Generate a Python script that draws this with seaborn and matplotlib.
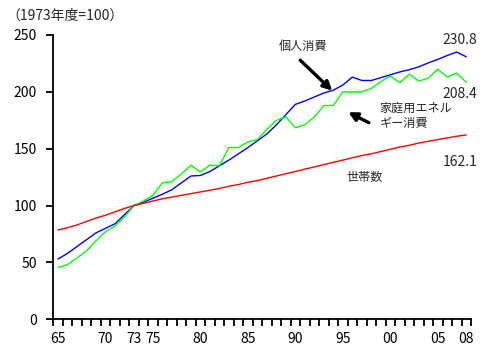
import matplotlib
matplotlib.use("Agg")
import matplotlib.pyplot as plt
import seaborn as sns
import pandas as pd

years = list(range(1965, 2009))

personal = [53, 58, 64, 70, 76, 80, 84, 92, 100,
            103, 106.5, 110, 114, 120, 126, 126.5, 130, 135, 140,
            145.5, 151, 157, 163, 171, 180, 189, 192, 195.5, 199,
            201.5, 206, 213, 210, 210, 212.5, 215, 217.5, 219.5, 222,
            225.5, 228.5, 232, 235, 230.8]

energy = [45.5, 48, 54, 60, 69, 77, 82, 90, 100,
          104, 109, 120, 121, 128, 135.5, 129.5, 135.5, 135, 151,
          151, 156, 158, 167, 175, 178, 168.5, 171, 178, 188,
          188, 200, 200, 200, 203, 209, 214, 208, 215.5, 209.5,
          212, 220, 213, 216.5, 208.4]

households = [78.5, 80.5, 83, 86, 89, 91.5, 94.5, 97.5, 100,
              102, 104, 106, 107.5, 109, 110.5, 112, 113.5, 115, 117,
              118.5, 120.5, 122, 124, 126, 128, 130, 132, 134, 136,
              138, 140, 142, 144, 145.5, 147.5, 149.5, 151.5, 153, 155,
              156.5, 158, 159.5, 161, 162.1]

series_names = ["個人消費", "家庭用エネルギー消費", "世帯数"]
tick_years = [1965, 1970, 1973, 1975, 1980, 1985, 1990, 1995, 2000, 2005, 2008]
tick_labels = ["65", "70", "73", "75", "80", "85", "90", "95", "00", "05", "08"]
y_ticks = [0, 50, 100, 150, 200, 250]

df = pd.DataFrame({
    "year": years * 3,
    "value": personal + energy + households,
    "series": [series_names[0]] * len(years) + [series_names[1]] * len(years)
              + [series_names[2]] * len(years),
})

sns.set_style("ticks")
plt.rcParams["font.family"] = ["Noto Sans CJK JP", "DejaVu Sans"]

fig = plt.figure(figsize=(4.87, 3.57), dpi=100)
ax = fig.add_axes([53.3 / 487, 1 - 319.3 / 357, (471 - 53.3) / 487, (319.3 - 35) / 357])

palette = {series_names[0]: "#0000ff", series_names[1]: "#00ff00", series_names[2]: "#ff0000"}
sns.lineplot(data=df, x="year", y="value", hue="series", palette=palette,
             linewidth=1.0, legend=False, ax=ax)

ax.set_xlim(1964.5, 2008.5)
ax.set_ylim(0, 250)
ax.set_xlabel("")
ax.set_ylabel("")
for s in ["top", "right"]:
    ax.spines[s].set_visible(False)
for s in ["left", "bottom"]:
    ax.spines[s].set_linewidth(1.3)
    ax.spines[s].set_color("black")

ax.set_yticks(y_ticks)
ax.set_yticklabels([str(v) for v in y_ticks], fontsize=10)
ax.tick_params(axis="y", length=5, width=1.3, pad=7, colors="black")

ax.set_xticks(tick_years)
ax.set_xticklabels(tick_labels, fontsize=10)
ax.set_xticks([y - 0.5 for y in years] + [years[-1] + 0.5], minor=True)
ax.tick_params(axis="x", which="major", length=0, pad=9, colors="black")
ax.tick_params(axis="x", which="minor", length=5, width=1.3, color="black")

fig.text(6 / 487, 1 - 16 / 357, "（1973年度=100）", fontsize=10, va="center", ha="left")

jp = 8.7
ax.text(1990.8, 239.5, "個人消費", fontsize=jp, ha="center", va="center")
ax.annotate("", xy=(1994.1, 199.3), xytext=(1990.3, 229.5),
            arrowprops=dict(arrowstyle="-|>", lw=2.4, color="black", mutation_scale=13))
ax.text(1998.9, 178.8, "家庭用エネル\nギー消費", fontsize=jp, ha="left", va="center",
        linespacing=1.25)
ax.annotate("", xy=(1995.3, 183.2), xytext=(1998.0, 171.8),
            arrowprops=dict(arrowstyle="-|>", lw=2.4, color="black", mutation_scale=13))
ax.text(1997.3, 124.3, "世帯数", fontsize=jp, ha="center", va="center")

ax.text(2007.35, 245.6, "230.8", fontsize=10, ha="center", va="center")
ax.text(2007.35, 198.2, "208.4", fontsize=10, ha="center", va="center")
ax.text(2007.35, 138.6, "162.1", fontsize=10, ha="center", va="center")

fig.savefig("out.png", dpi=100)
